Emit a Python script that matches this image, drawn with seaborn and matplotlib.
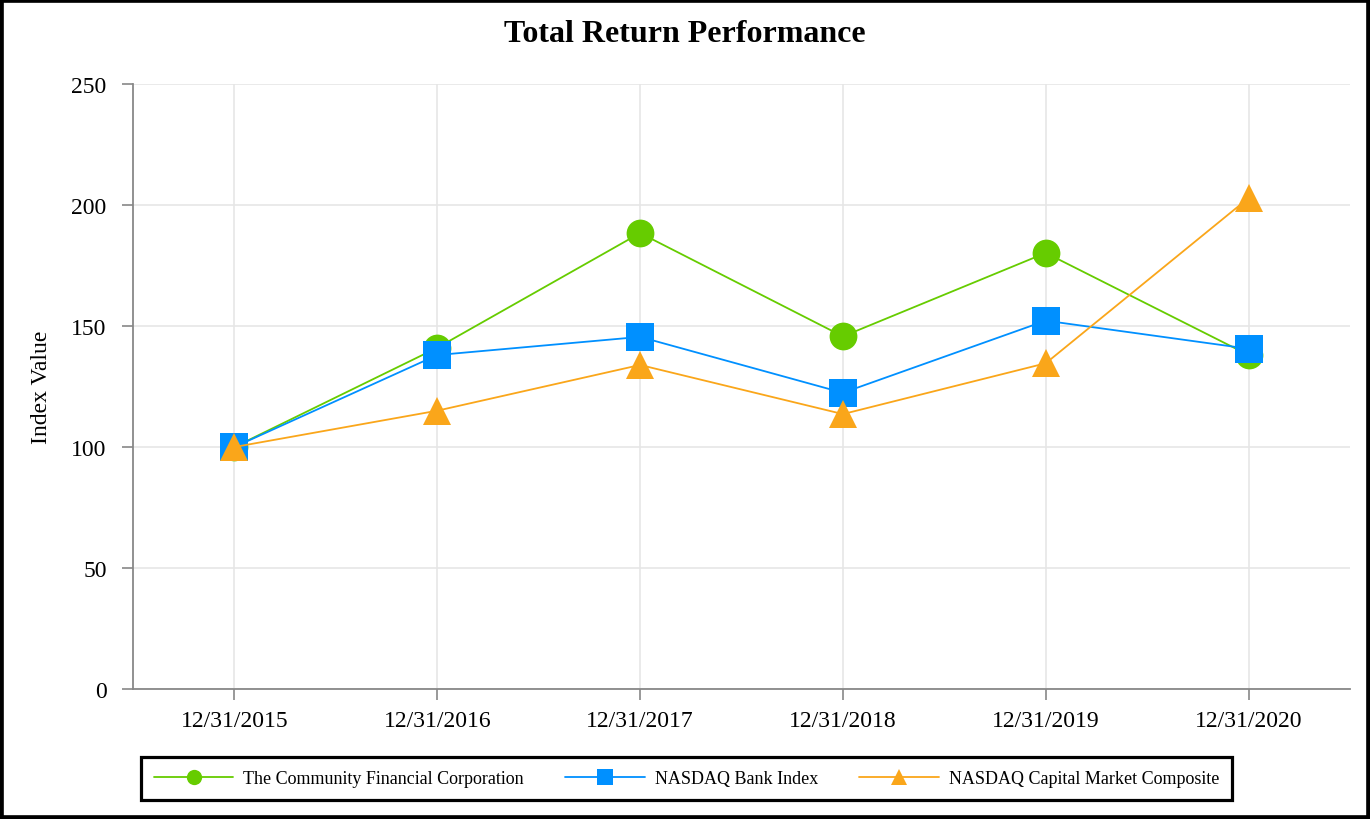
import pandas as pd
import seaborn as sns
import matplotlib
matplotlib.use("Agg")
import matplotlib.pyplot as plt
from matplotlib.patches import Rectangle

# values
dates = ["12/31/2015", "12/31/2016", "12/31/2017", "12/31/2018", "12/31/2019", "12/31/2020"]
community = [100, 141, 188.4, 145.7, 180.2, 138]
bank_index = [100, 138, 145.5, 122.4, 152.2, 140.6]
capital_market = [100, 115, 133.9, 113.6, 134.6, 202.9]

series_names = ["The Community Financial Corporation", "NASDAQ Bank Index",
                "NASDAQ Capital Market Composite"]
colors = ["#66CC00", "#0090FF", "#FAA61A"]
markers = ["o", "s", "^"]

rows = []
for name, vals in zip(series_names, [community, bank_index, capital_market]):
    for i, v in enumerate(vals):
        rows.append({"pos": i, "Index Value": v, "series": name})
df = pd.DataFrame(rows)

sns.set_style("white")
plt.rcParams["font.family"] = ["Liberation Serif", "DejaVu Serif"]
plt.rcParams["text.color"] = "black"
plt.rcParams["axes.labelcolor"] = "black"

fig = plt.figure(figsize=(13.7, 8.2), dpi=100)
ax = fig.add_axes([133 / 1370, 1 - 690 / 820, (1350 - 133) / 1370, (690 - 85) / 820])

sns.lineplot(data=df, x="pos", y="Index Value", hue="series", style="series",
             hue_order=series_names, style_order=series_names,
             palette=colors, markers=markers, dashes=False,
             markersize=20, markeredgewidth=0, linewidth=1.3, ax=ax, legend=False)

ax.set_xlim(-0.5, 5.5)
ax.set_ylim(0, 250)
ax.set_yticks([0, 50, 100, 150, 200, 250])
ax.set_xticks(range(len(dates)))
ax.set_xticklabels(dates)
ax.set_xlabel("")
ax.set_ylabel("Index Value", fontsize=17, labelpad=14, color="black")

ax.grid(True, color="#e6e6e6", linewidth=1.2)
ax.set_axisbelow(True)
for side in ["top", "right"]:
    ax.spines[side].set_visible(False)
for side in ["left", "bottom"]:
    ax.spines[side].set_color("#888888")
    ax.spines[side].set_linewidth(1.3)
ax.tick_params(axis="both", which="major", direction="out", length=8, width=1.2,
               color="#888888", labelsize=17, labelcolor="black",
               bottom=True, left=True)
ax.tick_params(axis="y", pad=11)
ax.tick_params(axis="x", pad=7)

fig.suptitle("Total Return Performance", fontsize=23, fontweight="bold", y=1 - 34 / 820,
             va="center", color="black")

handles = ax.lines[:3]
leg = fig.legend(handles, series_names, loc="center", ncol=3,
                 bbox_to_anchor=(686.5 / 1370, 1 - 779.5 / 820),
                 fontsize=13, markerscale=0.55, handlelength=4.4, handletextpad=0.55,
                 columnspacing=2.3, borderpad=0.7, fancybox=False, frameon=True,
                 framealpha=1, labelcolor="black")
leg.get_frame().set_edgecolor("black")
leg.get_frame().set_linewidth(2.3)

fig.add_artist(Rectangle((0, 0), 1, 1, transform=fig.transFigure, fill=False,
                         edgecolor="black", linewidth=5.5, clip_on=False))

fig.savefig("out.png", dpi=100)
